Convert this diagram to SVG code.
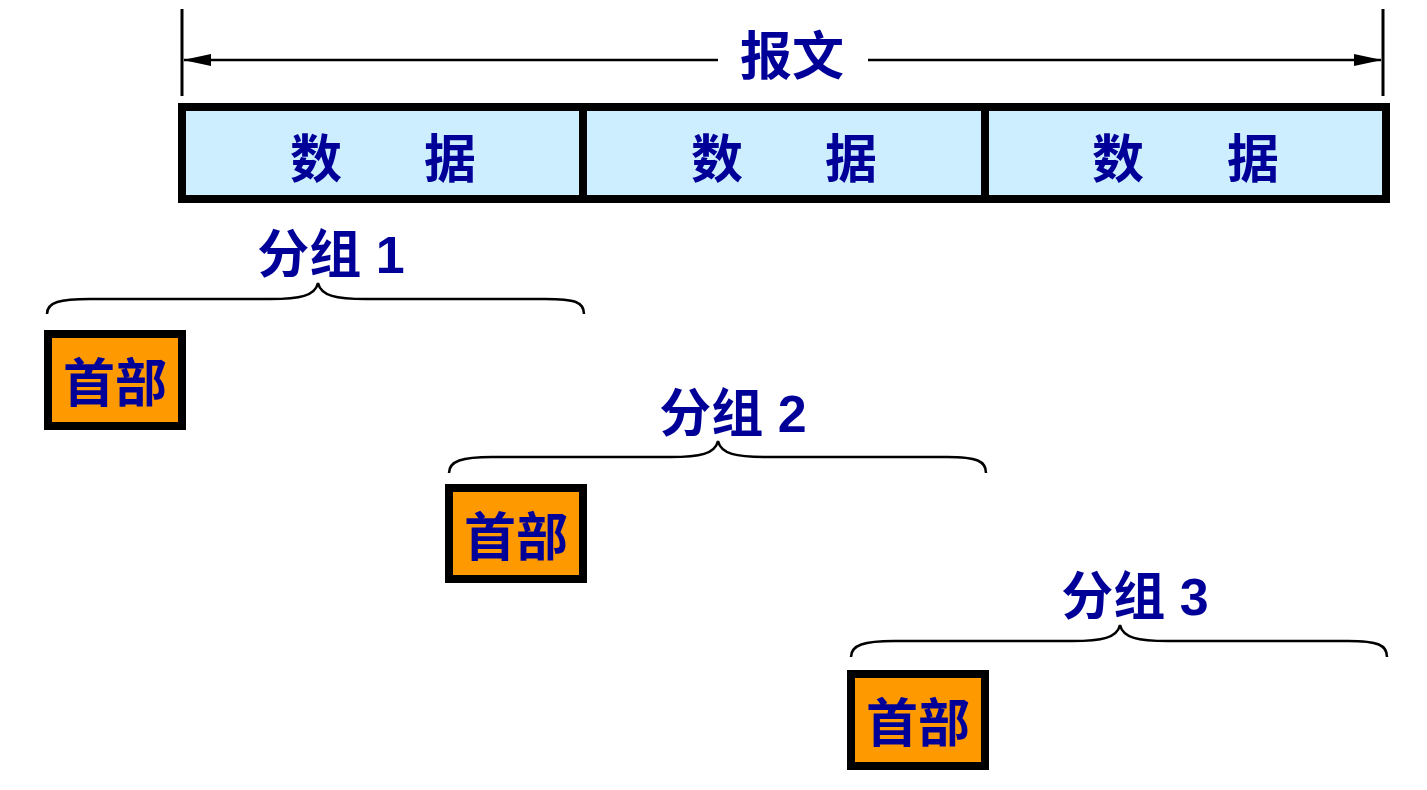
<svg xmlns="http://www.w3.org/2000/svg" width="1427" height="790" viewBox="0 0 1427 790">
<style>
.t{font-family:"Liberation Sans","Noto Sans CJK SC",sans-serif;font-weight:700;fill:#000099;text-anchor:middle}
.big{font-size:52px}
.box{stroke:#000;stroke-width:8}
.hdr{fill:#ff9900}
.msg{fill:#cceeff}
.brace{fill:none;stroke:#000;stroke-width:2.5}
.dim{stroke:#000;stroke-width:3}
.dl{stroke:#000;stroke-width:2.5}
</style>
<defs>
<marker id="ah" markerWidth="28" markerHeight="12" refX="27" refY="6" orient="auto-start-reverse" markerUnits="userSpaceOnUse">
<path d="M0,0 L28,6 L0,12 Z" fill="#000"/>
</marker>
</defs>
<g id="connectors">
<line class="dim" x1="182" y1="9" x2="182" y2="96"/>
<line class="dim" x1="1383" y1="9" x2="1383" y2="96"/>
<line class="dl" x1="718" y1="60" x2="184" y2="60" marker-end="url(#ah)"/>
<line class="dl" x1="868" y1="60" x2="1381" y2="60" marker-end="url(#ah)"/>
<path class="brace" d="M47,314 C47,302 60,299 90,299 L270,299 C300,299 315,296 318,283 C321,296 336,299 366,299 L545,299 C575,299 584,302 584,314"/>
<path class="brace" d="M449,473 C449,461 462,457 492,457 L670,457 C700,457 715,454 718,441 C721,454 736,457 766,457 L947,457 C977,457 986,461 986,473"/>
<path class="brace" d="M851,657 C851,645 864,641 894,641 L1072,641 C1102,641 1117,638 1120,625 C1123,638 1138,641 1168,641 L1348,641 C1378,641 1387,645 1387,657"/>
</g>
<g id="label-message">
<text class="t big" x="792" y="75">报文</text>
</g>
<g id="message">
<rect class="box msg" x="182" y="107" width="1204" height="92"/>
<line class="box" x1="583" y1="107" x2="583" y2="199"/>
<line class="box" x1="985" y1="107" x2="985" y2="199"/>
<text class="t big" x="316" y="178">数</text>
<text class="t big" x="450" y="178">据</text>
<text class="t big" x="717" y="178">数</text>
<text class="t big" x="851" y="178">据</text>
<text class="t big" x="1118" y="178">数</text>
<text class="t big" x="1253" y="178">据</text>
</g>
<g id="packet1">
<text class="t big" x="331" y="273">分组 1</text>
<rect class="box hdr" x="48" y="334" width="134" height="92"/>
<text class="t big" x="115" y="402">首部</text>
</g>
<g id="packet2">
<text class="t big" x="733" y="432">分组 2</text>
<rect class="box hdr" x="449" y="488" width="134" height="91"/>
<text class="t big" x="516" y="556">首部</text>
</g>
<g id="packet3">
<text class="t big" x="1135" y="615">分组 3</text>
<rect class="box hdr" x="851" y="674" width="134" height="92"/>
<text class="t big" x="918" y="742">首部</text>
</g>
</svg>
